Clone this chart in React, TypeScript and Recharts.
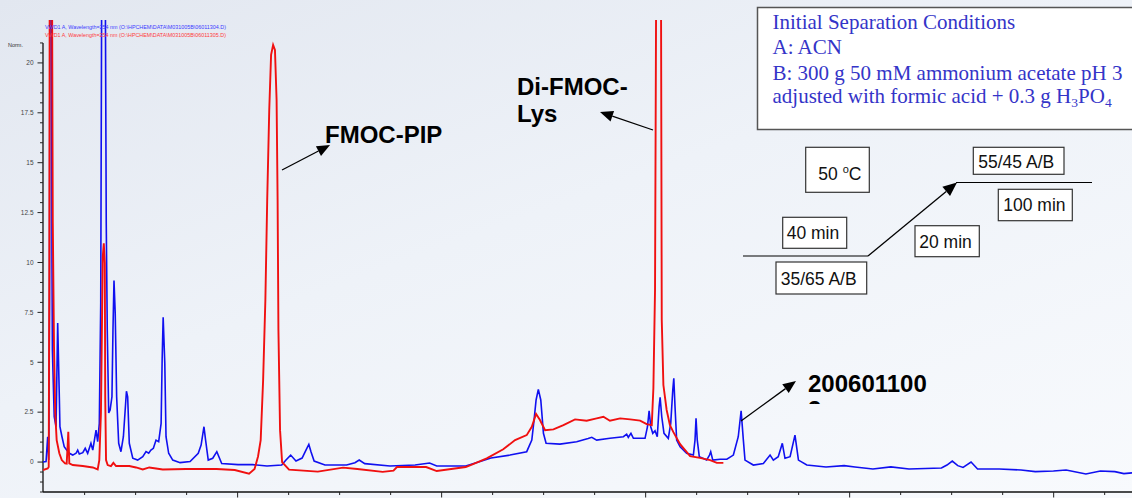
import React from 'react';
import { LineChart, Line, XAxis, YAxis, ReferenceLine } from 'recharts';

// Run 06011304 (blue) : [retention time (min), signal (Norm.)]
const blueRun: [number, number][] = [
  [0.46, 0], [0.61, 0.02], [0.69, 1.27], [0.74, 0.1], [0.78, 8], [0.8, 25], [0.88, 25], [0.9, 10],
  [0.92, 5.61], [1.01, 2.27], [1.1, 1.77], [1.18, 6.97], [1.26, 3.27], [1.29, 1.77], [1.39, 1.27],
  [1.5, 0.77], [1.62, 0.6], [1.75, 0.44], [1.92, 0.35], [2.08, 0.44], [2.16, 0.6], [2.24, 0.4],
  [2.41, 0.47], [2.53, 0.69], [2.65, 0.44], [2.81, 0.94], [2.9, 0.6], [3.06, 1.6], [3.14, 1.02],
  [3.22, 1.94], [3.29, 8], [3.34, 25], [3.51, 25], [3.56, 12], [3.61, 6.62], [3.68, 2.46], [3.75, 2.61],
  [3.84, 3.27], [3.89, 6.6], [3.94, 9.1], [4.0, 7.45], [4.07, 3.27], [4.17, 0.94], [4.28, 0.52],
  [4.4, 1.27], [4.55, 3.55], [4.61, 3.27], [4.69, 0.94], [4.86, 0.19], [5.1, 0.1], [5.35, 0.27],
  [5.51, 0.52], [5.64, 0.44], [5.75, 0.6], [5.87, 0.69], [6.0, 1.1], [6.13, 1.02], [6.25, 1.94],
  [6.3, 5.1], [6.35, 7.25], [6.43, 4.95], [6.49, 1.27], [6.62, 0.44], [6.82, 0.1], [7.18, -0.03],
  [7.67, 0.03], [8.07, 0.44], [8.21, 0.85], [8.35, 1.77], [8.43, 1.1], [8.56, 0.1], [8.78, 0.19],
  [8.98, 0.52], [9.22, -0.07], [10.02, -0.13], [10.74, -0.13], [11.44, -0.2], [12.16, -0.15],
  [12.37, 0.1], [12.6, 0.35], [12.86, 0.05], [13.16, 0.2], [13.35, 0.6], [13.49, 0.88], [13.6, 0.5],
  [13.75, 0.05], [14.28, -0.15], [15.34, -0.15], [15.75, -0.03], [15.96, 0.1], [16.23, -0.08],
  [17.47, -0.2], [18.7, -0.15], [19.41, -0.05], [19.76, -0.2], [21.18, -0.2], [21.54, -0.08],
  [22.42, 0.2], [23.35, 0.35], [24.17, 0.52], [24.42, 1.1], [24.53, 2.1], [24.63, 3.11], [24.74, 3.64],
  [24.86, 3.11], [24.99, 1.44], [25.12, 0.94], [25.8, 0.9], [26.62, 1.02], [27.18, 1.18], [27.36, 1.24],
  [27.6, 1.1], [28.25, 1.19], [28.91, 1.27], [29.07, 1.4], [29.15, 1.24], [29.28, 1.44], [29.4, 1.19],
  [29.97, 1.19], [30.09, 1.77], [30.17, 2.57], [30.25, 1.77], [30.35, 1.44], [30.46, 1.57], [30.57, 1.27],
  [30.66, 2.77], [30.71, 3.24], [30.79, 2.27], [30.9, 1.44], [31.11, 1.19], [31.23, 1.94], [31.33, 3.61],
  [31.38, 4.2], [31.44, 2.77], [31.52, 1.1], [31.69, 0.77], [32.01, 0.44], [32.34, 0.35], [32.42, 1.1],
  [32.47, 2.19], [32.53, 1.1], [32.63, 0.27], [32.99, 0.1], [33.13, 0.35], [33.19, 0.52], [33.29, 0.1],
  [33.65, 0.14], [33.98, 0.14], [34.3, 0.35], [34.54, 1.27], [34.68, 2.57], [34.79, 1.1], [34.87, 0.1],
  [35.28, -0.15], [35.77, -0.07], [36.1, 0.35], [36.26, 0.1], [36.5, 0.27], [36.7, 0.94], [36.83, 0.19],
  [37.08, 0.27], [37.32, 1.35], [37.49, 0.1], [37.9, -0.15], [38.84, -0.25], [39.73, -0.18],
  [40.26, -0.25], [41.14, -0.35], [42.02, -0.24], [42.91, -0.35], [44.5, -0.3], [44.77, -0.15],
  [45.03, 0.05], [45.3, -0.18], [45.56, -0.27], [45.95, 0], [46.27, -0.35], [47.33, -0.35], [48.4, -0.4],
  [49.1, -0.48], [49.99, -0.45], [50.61, -0.4], [51.58, -0.6], [52.29, -0.45], [53.0, -0.48],
  [53.44, -0.58], [53.84, -0.54],
];

// Run 06011305 (red) : [retention time (min), signal (Norm.)]
const redRun: [number, number][] = [
  [0.46, -0.4], [0.69, -0.32], [0.74, -0.25], [0.77, 10], [0.79, 25], [0.9, 25], [0.94, 12], [1.0, 5.78],
  [1.06, 2.44], [1.13, 1.1], [1.26, 0.44], [1.38, 0.1], [1.54, -0.07], [1.62, -0.08], [1.67, 0.85],
  [1.7, 1.52], [1.75, -0.07], [1.92, -0.15], [2.41, -0.2], [2.9, -0.27], [3.14, -0.37], [3.22, 0.1],
  [3.3, 2.46], [3.39, 10.29], [3.44, 10.96], [3.49, 9.97], [3.51, 3.27], [3.55, 0.1], [3.63, -0.15],
  [3.79, -0.2], [3.91, -0.04], [4.04, -0.2], [4.69, -0.2], [5.02, -0.27], [5.35, -0.37], [5.67, -0.27],
  [6.0, -0.32], [6.33, -0.37], [7.47, -0.35], [8.97, -0.35], [9.86, -0.4], [10.56, -0.58], [10.83, -0.35],
  [11.0, 0.28], [11.13, 1.1], [11.25, 4.11], [11.36, 8.12], [11.45, 13.13], [11.55, 17.64], [11.64, 20.4],
  [11.74, 20.9], [11.83, 20.65], [11.91, 18.15], [11.96, 13.13], [12.0, 6.62], [12.08, 1.6], [12.18, 0],
  [12.52, -0.38], [13.93, -0.48], [15.17, -0.28], [15.87, -0.35], [17.11, -0.49], [17.64, -0.43],
  [17.81, -0.25], [19.24, -0.25], [19.76, -0.45], [21.18, -0.25], [21.54, -0.1], [22.21, 0.19],
  [23.02, 0.64], [23.6, 1.1], [24.17, 1.35], [24.42, 1.77], [24.63, 2.41], [24.82, 2.11], [25.07, 1.6],
  [25.48, 1.64], [25.97, 1.85], [26.54, 2.14], [27.11, 2.07], [27.6, 2.19], [27.93, 2.27], [28.25, 2.07],
  [28.75, 2.19], [29.24, 2.14], [29.73, 2.08], [30.05, 1.9], [30.3, 1.85], [30.38, 3.71], [30.46, 8.62],
  [30.52, 25], [30.75, 25], [30.79, 7.12], [30.87, 3.86], [31.03, 2.61], [31.19, 1.85], [31.36, 1.5],
  [31.69, 0.9], [32.18, 0.3], [32.66, 0.21], [33.16, 0.1], [33.49, -0.04], [33.81, -0.04],
];

const yTicks = [-1.5, -1, -0.5, 0, 0.5, 1, 1.5, 2, 2.5, 3, 3.5, 4, 4.5, 5, 5.5, 6, 6.5, 7, 7.5, 8, 8.5, 9, 9.5, 10,
  10.5, 11, 11.5, 12, 12.5, 13, 13.5, 14, 14.5, 15, 15.5, 16, 16.5, 17, 17.5, 18, 18.5, 19, 19.5, 20, 20.5, 21];
const yLabelTicks = [0, 2.5, 5, 7.5, 10, 12.5, 15, 17.5, 20];
const xTicks = [2.5, 5, 7.5, 10, 12.5, 15, 17.5, 20, 22.5, 25, 27.5, 30, 32.5, 35, 37.5, 40, 42.5, 45, 47.5, 50, 52.5];
const xMajorTicks = [10, 20, 30, 40, 50];

const legendLines = [
  'VWD1 A, Wavelength=254 nm (O:\\HPCHEM\\DATA\\M031005B\\06011304.D)',
  'VWD1 A, Wavelength=254 nm (O:\\HPCHEM\\DATA\\M031005B\\06011305.D)',
];

const BLUE = '#1010f0';
const RED = '#f01010';

const blueData = blueRun.map(([t, v]) => ({ t, v }));
const redData = redRun.map(([t, v]) => ({ t, v }));

const YTick = (props: any) => {
  const { x, y, payload } = props;
  const v = payload.value;
  const major = yLabelTicks.includes(v);
  return (
    <g>
      <line x1={x - (major ? 5.5 : 3)} x2={x} y1={y} y2={y} stroke="#222" strokeWidth={1} />
      {major && (
        <text x={x - 9.5} y={y} dy="0.35em" textAnchor="end" fontSize={6.5} fill="#444"
          fontFamily="'Liberation Sans', Arial, sans-serif">{String(v)}</text>
      )}
    </g>
  );
};

const XTick = (props: any) => {
  const { x, y, payload } = props;
  const major = xMajorTicks.includes(payload.value);
  return <line x1={x} x2={x} y1={y} y2={y + (major ? 5.5 : 3)} stroke="#222" strokeWidth={1} />;
};

const Arrow = ({ x1, y1, x2, y2, hl = 13, hw = 5.5 }: any) => {
  const dx = x2 - x1, dy = y2 - y1;
  const len = Math.sqrt(dx * dx + dy * dy);
  const ux = dx / len, uy = dy / len;
  const bx = x2 - ux * hl, by = y2 - uy * hl;
  const px = -uy * hw, py = ux * hw;
  return (
    <g>
      <line x1={x1} y1={y1} x2={bx} y2={by} stroke="#000" strokeWidth={1.3} />
      <polygon points={`${x2},${y2} ${bx + px},${by + py} ${bx - px},${by - py}`} fill="#000" />
    </g>
  );
};

const Box = ({ x, y, w, h, tx, ty, children }: any) => (
  <g>
    <rect x={x} y={y} width={w} height={h} fill="#ffffff" stroke="#333" strokeWidth={1.2} />
    <text x={tx} y={ty} fontSize={17.5} fill="#111" fontFamily="'Liberation Sans', Arial, sans-serif">{children}</text>
  </g>
);

export default function App() {
  const sans = "'Liberation Sans', Arial, sans-serif";
  const serif = "'Liberation Serif', 'Times New Roman', serif";
  return (
    <div style={{ position: 'absolute', left: 0, top: 0, width: 1132, height: 498, overflow: 'hidden',
      background: 'linear-gradient(160deg, #e2e7f0 0%, #eef2f8 45%, #f8fafd 100%)' }}>
      <LineChart width={1132} height={498} data={blueData} margin={{ top: 20, right: 0, bottom: 0, left: 0 }}>
        <XAxis dataKey="t" type="number" domain={[0.46, 53.84]} allowDataOverflow ticks={xTicks}
          height={6} tickSize={0} tickMargin={0} tickLine={false} tick={<XTick />}
          axisLine={{ stroke: '#111', strokeWidth: 1.3 }} interval={0} />
        <YAxis type="number" domain={[-1.5, 22.15]} allowDataOverflow ticks={yTicks} width={43}
          tickSize={0} tickMargin={0} tickLine={false} tick={<YTick />} axisLine={false} interval={0} />
        <ReferenceLine segment={[{ x: 0.46, y: -1.5 }, { x: 0.46, y: 21 }]} stroke="#111" strokeWidth={1.3}
          ifOverflow="visible" />
        <Line data={blueData} dataKey="v" type="linear" stroke={BLUE} strokeWidth={1.6} dot={false}
          isAnimationActive={false} />
        <Line data={redData} dataKey="v" type="linear" stroke={RED} strokeWidth={1.9} dot={false}
          isAnimationActive={false} />
      </LineChart>
      <svg width={1132} height={498} style={{ position: 'absolute', left: 0, top: 0, pointerEvents: 'none' }}>
        <defs>
          <clipPath id="cutLine">
            <rect x={800} y={396} width={40} height={8} />
          </clipPath>
        </defs>
        <text x={45} y={28.5} fontSize={5.6} fill="#3b3bff" fontFamily={sans} textLength={181}
          lengthAdjust="spacingAndGlyphs">{legendLines[0]}</text>
        <text x={45} y={36.5} fontSize={5.6} fill="#ff3b3b" fontFamily={sans} textLength={181}
          lengthAdjust="spacingAndGlyphs">{legendLines[1]}</text>
        <text x={8} y={46.5} fontSize={5.5} fill="#333" fontFamily={sans}>Norm.</text>

        <text x={325} y={143} fontSize={24} fontWeight="bold" fill="#000" fontFamily={sans}>FMOC-PIP</text>
        <Arrow x1={282} y1={170} x2={330} y2={145} />
        <text x={517} y={95} fontSize={24} fontWeight="bold" fill="#000" fontFamily={sans}>Di-FMOC-</text>
        <text x={517} y={122} fontSize={24} fontWeight="bold" fill="#000" fontFamily={sans}>Lys</text>
        <Arrow x1={653} y1={130} x2={600} y2={112} />
        <text x={808} y={392} fontSize={24} fontWeight="bold" fill="#000" fontFamily={sans}>200601100</text>
        <g clipPath="url(#cutLine)">
          <text x={808} y={418} fontSize={24} fontWeight="bold" fill="#000" fontFamily={sans}>3</text>
        </g>
        <Arrow x1={741} y1={421} x2={796} y2={381} />

        <rect x={757.5} y={7.5} width={400} height={122} fill="#ffffff" stroke="#555" strokeWidth={1.5} />
        <g fontFamily={serif} fontSize={21} fill="#3434c8">
          <text x={772.5} y={28.5}>Initial Separation Conditions</text>
          <text x={772.5} y={54}>A: ACN</text>
          <text x={772.5} y={79.5}>B: 300 g 50 mM ammonium acetate pH 3</text>
          <text x={772.5} y={103}>adjusted with formic acid + 0.3 g H<tspan fontSize={13.5} dy={4}>3</tspan><tspan dy={-4}>PO</tspan><tspan fontSize={13.5} dy={4}>4</tspan></text>
        </g>

        <line x1={743} y1={256} x2={868} y2={256} stroke="#000" strokeWidth={1.2} />
        <Arrow x1={868} y1={256} x2={957} y2={182.5} hl={14} hw={6} />
        <line x1={956} y1={182.5} x2={1092} y2={182.5} stroke="#000" strokeWidth={1.2} />

        <rect x={805.7} y={147.3} width={63.6} height={45} fill="#ffffff" stroke="#333" strokeWidth={1.2} />
        <text x={818.3} y={180} fontSize={17.5} fill="#111" fontFamily={sans}>50 <tspan fontSize={11} dy={-7}>o</tspan><tspan dy={7}>C</tspan></text>
        <Box x={973.3} y={147.3} w={90.7} h={27} tx={978.3} ty={167.5}>55/45 A/B</Box>
        <Box x={998.3} y={189.3} w={74} h={31.4} tx={1003.3} ty={211}>100 min</Box>
        <Box x={782.7} y={217.3} w={64} h={31} tx={786.7} ty={239}>40 min</Box>
        <Box x={915} y={225.7} w={64.3} h={31} tx={919.3} ty={247.5}>20 min</Box>
        <Box x={776} y={262} w={90.7} h={32} tx={780.7} ty={284.5}>35/65 A/B</Box>
      </svg>
    </div>
  );
}
